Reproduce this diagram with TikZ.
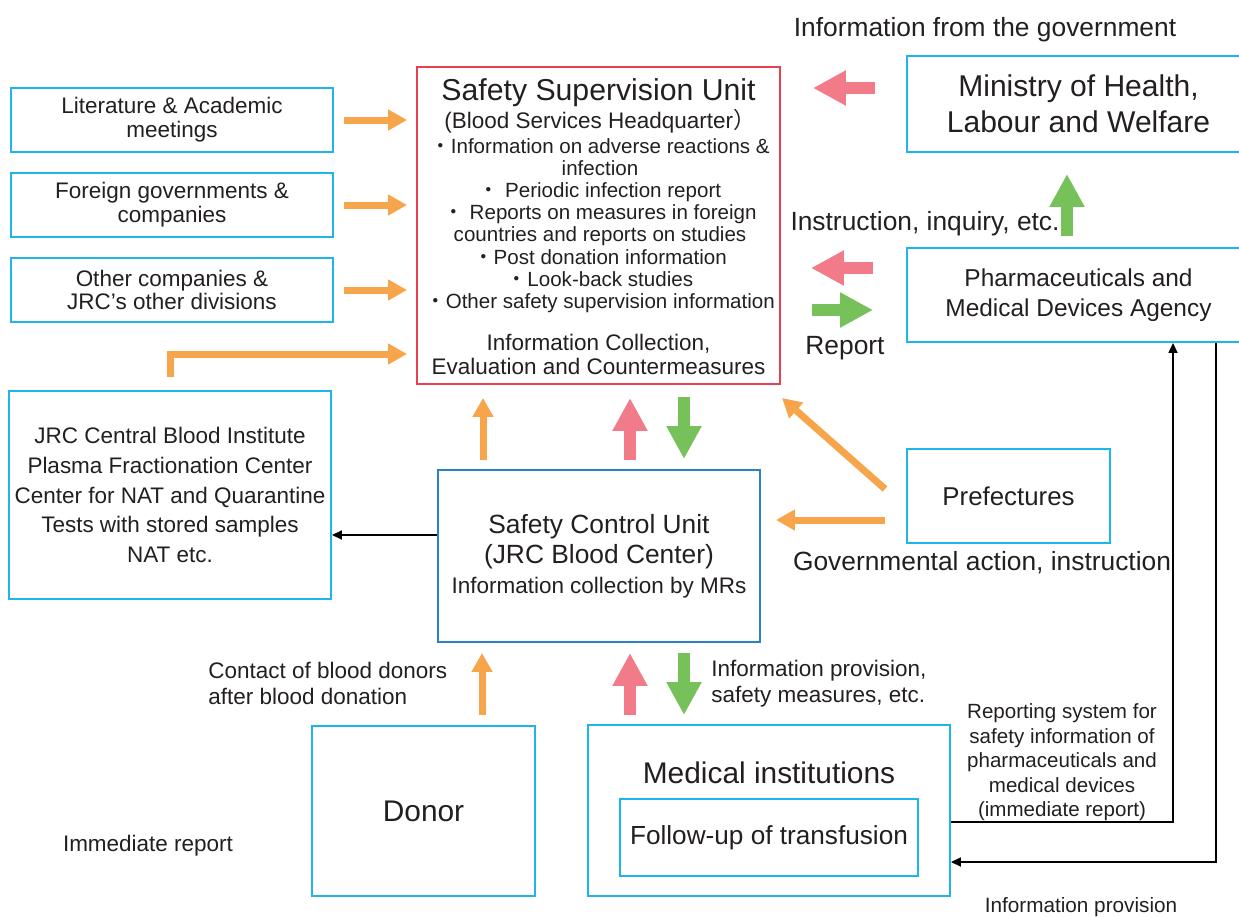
\documentclass[tikz,border=0pt]{standalone}
\usepackage{fontspec}
\setmainfont{Liberation Sans}
\newfontfamily\cjk{Noto Sans CJK JP}
\usetikzlibrary{arrows.meta}
\definecolor{cbox}{HTML}{1FB5EA}
\definecolor{cssu}{HTML}{E8404F}
\definecolor{cscu}{HTML}{2A83C6}
\definecolor{cpink}{HTML}{F27B8A}
\definecolor{cgreen}{HTML}{77C15A}
\definecolor{corange}{HTML}{F7A54B}
\definecolor{ctext}{HTML}{231F20}
\newcommand{\fsz}[2]{\fontsize{#1}{#2}\selectfont}
\newcommand{\bdot}{{\cjk ・}}
\tikzset{
  box/.style={draw=cbox, line width=0.04cm, inner sep=0pt, align=center, text=ctext, font=\fsz{12.8pt}{13.6pt}},
  ssubox/.style={box, draw=cssu},
  scubox/.style={box, draw=cscu},
  txt/.style={inner sep=0pt, align=center, text=ctext, yshift=-0.05cm},
  orar/.style={draw=corange, line width=0.14cm, -{Triangle[length=0.38cm,width=0.4cm]}},
  pinkar/.style={draw=cpink, line width=0.24cm, -{Triangle[length=0.66cm,width=0.66cm]}},
  greenar/.style={pinkar, draw=cgreen},
  blk/.style={draw=black, line width=0.035cm, -{Triangle[length=0.2cm,width=0.18cm]}},
}
\begin{document}
\begin{tikzpicture}[x=0.02cm, y=-0.02cm]
\useasboundingbox (0,0) rectangle (1239,916);
% supervision unit
\node[txt, font=\fsz{15pt}{18pt}] (govtxt) at (985,27) {Information from the government};
\node[ssubox, minimum width=7.26cm, minimum height=6.34cm] (ssu) at (598.5,225.5) {};
\node[txt, font=\fsz{17.2pt}{20pt}] (ssutitle) at (598.5,90) {Safety Supervision Unit};
\node[txt, font=\fsz{12.8pt}{15pt}] (ssusub) at (600,119) {(Blood Services Headquarter{\cjk ）}};
\node[txt, font=\fsz{11.7pt}{12.6pt}] (ssulist) at (600,223) {\bdot Information on adverse reactions \&\\infection\\\bdot\ Periodic infection report\\\bdot\ Reports on measures in foreign\\countries and reports on studies\\\bdot Post donation information\\\bdot Look-back studies\\\bdot Other safety supervision information};
\node[txt, font=\fsz{12.8pt}{13.6pt}] (ssufoot) at (598.5,352) {Information Collection,\\Evaluation and Countermeasures};
% sources on the left
\node[box, minimum width=6.44cm, minimum height=1.28cm] (lit) at (172,120) {Literature \& Academic\\meetings};
\node[box, minimum width=6.44cm, minimum height=1.28cm] (foreign) at (172,205) {Foreign governments \&\\companies};
\node[box, minimum width=6.44cm, minimum height=1.28cm] (othco) at (172,290) {Other companies \&\\JRC’s other divisions};
\node[box, minimum width=6.44cm, minimum height=4.16cm, font=\fsz{12.8pt}{17pt}] (jrc) at (170,495) {JRC Central Blood Institute\\Plasma Fractionation Center\\Center for NAT and Quarantine\\Tests with stored samples\\NAT etc.};
% government side
\node[box, minimum width=6.86cm, minimum height=1.92cm, font=\fsz{17.1pt}{20.4pt}] (min) at (1078.5,104) {Ministry of Health,\\Labour and Welfare};
\node[box, minimum width=6.86cm, minimum height=1.88cm, font=\fsz{13.9pt}{17pt}] (pmda) at (1078.5,295) {Pharmaceuticals and\\Medical Devices Agency};
\node[box, minimum width=4.06cm, minimum height=1.88cm, font=\fsz{14.7pt}{17pt}] (pref) at (1008.5,496) {Prefectures};
\node[txt, font=\fsz{15pt}{18pt}] (instr) at (925,221) {Instruction, inquiry, etc.};
\node[txt, font=\fsz{15pt}{18pt}] (report) at (845,346) {Report};
\node[txt, font=\fsz{15pt}{18pt}] (govact) at (982,560) {Governmental action, instruction};
% control unit and below
\node[scubox, minimum width=6.44cm, minimum height=3.44cm, font=\fsz{15pt}{17pt}] (scu) at (599,556) {Safety Control Unit\\(JRC Blood Center)\\{\fsz{12.8pt}{17pt}Information collection by MRs}};
\node[box, minimum width=4.46cm, minimum height=3.4cm, font=\fsz{17pt}{20pt}] (donor) at (423.5,811) {Donor};
\node[box, minimum width=7.24cm, minimum height=3.42cm] (med) at (769,810.5) {};
\node[txt, font=\fsz{17pt}{20pt}] (medtitle) at (769,770) {Medical institutions};
\node[box, minimum width=5.96cm, minimum height=1.54cm, font=\fsz{14.9pt}{17pt}] (follow) at (769,837.5) {Follow-up of transfusion};
\node[txt, align=left, anchor=west, font=\fsz{12.8pt}{14.7pt}] (contact) at (208,681) {Contact of blood donors\\after blood donation};
\node[txt, align=left, anchor=west, font=\fsz{12.8pt}{14.7pt}] (infoprov) at (711,681) {Information provision,\\safety measures, etc.};
\node[txt, font=\fsz{12.8pt}{15pt}] (immed) at (148,843) {Immediate report};
\node[txt, font=\fsz{11.7pt}{13.9pt}] (repsys) at (1062,760) {Reporting system for\\safety information of\\pharmaceuticals and\\medical devices\\(immediate report)};
\node[txt, font=\fsz{11.8pt}{14pt}] (infobot) at (1081,905) {Information provision};
% arrows
\draw[orar, shorten <=0.2cm, shorten >=0.18cm] (lit.east) -- (ssu.west |- lit.east);
\draw[orar, shorten <=0.2cm, shorten >=0.18cm] (foreign.east) -- (ssu.west |- foreign.east);
\draw[orar, shorten <=0.2cm, shorten >=0.18cm] (othco.east) -- (ssu.west |- othco.east);
\draw[orar, shorten >=0.18cm] ([yshift=0.26cm]jrc.north) |- (ssu.west |- 0,354);
\draw[pinkar, shorten <=0.62cm, shorten >=0.64cm] (min.west |- 0,88) -- (ssu.east |- 0,88);
\draw[pinkar, shorten <=0.66cm, shorten >=0.6cm] (pmda.west |- 0,268) -- (ssu.east |- 0,268);
\draw[greenar, shorten <=0.62cm, shorten >=0.66cm] (ssu.east |- 0,310) -- (pmda.west |- 0,310);
\draw[greenar, shorten <=0.22cm, shorten >=0.42cm] (pmda.north -| 1067,0) -- (min.south -| 1067,0);
\draw[orar, shorten <=0.18cm, shorten >=0.26cm] (scu.north -| 483,0) -- (ssu.south -| 483,0);
\draw[pinkar, shorten <=0.18cm, shorten >=0.26cm] (scu.north -| 630,0) -- (ssu.south -| 630,0);
\draw[greenar, shorten <=0.24cm, shorten >=0.2cm] (ssu.south -| 684,0) -- (scu.north -| 684,0);
\draw[orar] ([shift={(-21,-7)}]pref.west) -- ([shift={(1,13)}]ssu.south east);
\draw[orar, shorten <=0.42cm, shorten >=0.3cm] (pref.west |- 0,520) -- (scu.east |- 0,520);
\draw[orar, shorten <=0.2cm, shorten >=0.2cm] (donor.north -| 482,0) -- (scu.south -| 482,0);
\draw[pinkar, shorten <=0.18cm, shorten >=0.2cm] (med.north -| 630,0) -- (scu.south -| 630,0);
\draw[greenar, shorten <=0.2cm, shorten >=0.18cm] (scu.south -| 684,0) -- (med.north -| 684,0);
\draw[blk] (scu.west |- 0,535) -- (jrc.east |- 0,535);
\draw[blk] (med.east |- 0,822) -| (pmda.south -| 1173,0);
\draw[blk] (pmda.south -| 1216,0) |- (med.east |- 0,862);
\end{tikzpicture}
\end{document}
